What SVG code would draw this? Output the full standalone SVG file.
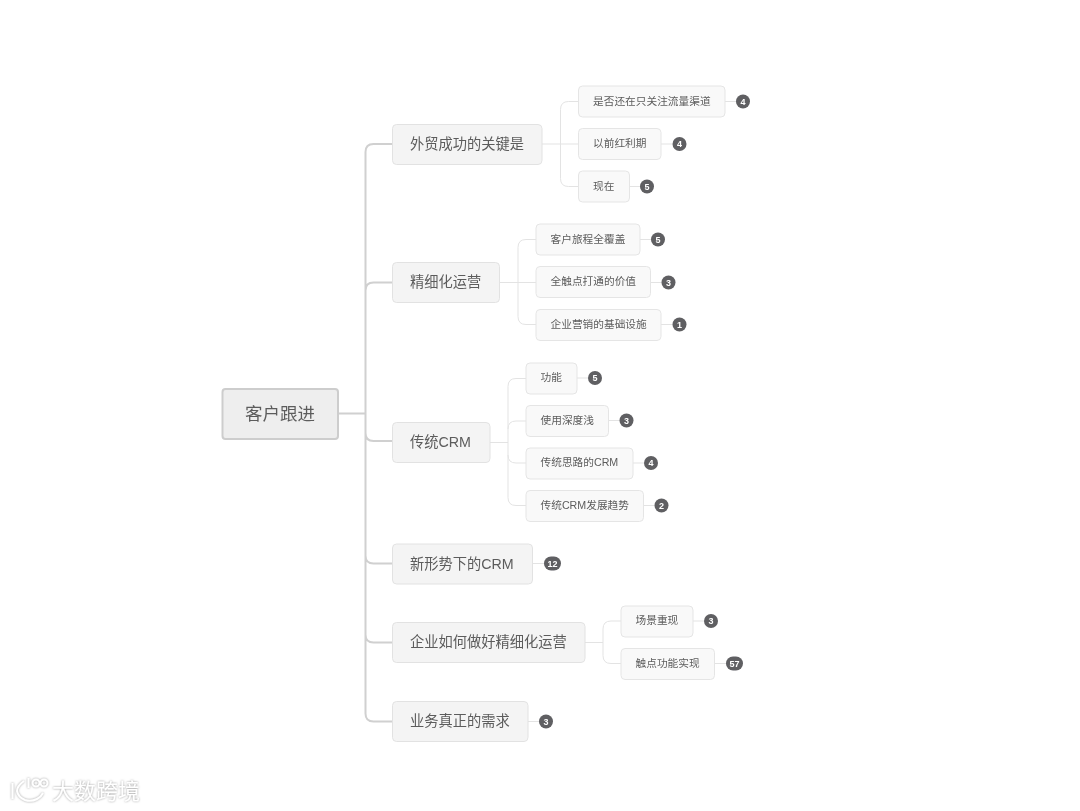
<svg xmlns="http://www.w3.org/2000/svg" width="1080" height="811" viewBox="0 0 1080 811">
<defs>
<filter id="soft" x="0" y="0" width="1080" height="811" filterUnits="userSpaceOnUse"><feGaussianBlur stdDeviation="0.35"/></filter>
<filter id="halo" x="0" y="760" width="170" height="51" filterUnits="userSpaceOnUse"><feDropShadow dx="0" dy="0" stdDeviation="1.1" flood-color="#9a9a9a"/></filter>
</defs>
<style>
text{font-family:"Liberation Sans","Noto Sans CJK SC",sans-serif;fill:#5c5c5c}
.root rect{fill:#eeeeee;stroke:#cdcdcd;stroke-width:2}
.root text{font-size:17.500px}
.l1 rect{fill:#f4f4f4;stroke:#e2e2e2;stroke-width:1}
.l1 text{font-size:14.250px}
.l2 rect{fill:#f9f9f9;stroke:#e5e5e5;stroke-width:1}
.l2 text{font-size:10.700px}
.badge circle,.badge rect{fill:#5f5f62}
.badge text{font-size:9px;fill:#fff;text-anchor:middle;font-weight:bold}
.c0{fill:none;stroke:#d0d0d0;stroke-width:2}
.c1{fill:none;stroke:#e3e3e3;stroke-width:1}
.wm{font-size:22px;fill:#fff}
.wl{fill:none;stroke:#fff;stroke-width:2}
</style>
<g filter="url(#soft)">
<g id="connectors">
<path class="c0" d="M338 413.500H365.500M392 144H373.500Q365.500 144 365.500 152V713.500Q365.500 721.500 373.500 721.500H392M392 282.500H373.500Q365.500 282.500 365.500 290.500M365.500 433Q365.500 441 373.500 441H392M365.500 555.500Q365.500 563.500 373.500 563.500H392M365.500 634.500Q365.500 642.500 373.500 642.500H392"/>
<path class="c1" d="M542 144H578M578 101.500H568.500Q560.500 101.500 560.500 109.500V178.500Q560.500 186.500 568.500 186.500H578M725 101.500H736M661 144H672.500M629.500 186.500H640"/>
<path class="c1" d="M499.500 282.500H536M536 239.500H526Q518 239.500 518 247.500V316.500Q518 324.500 526 324.500H536M640 239.500H651M650.500 282.500H661.500M661 324.500H672.500"/>
<path class="c1" d="M490 442.500H508M526 378.500H516Q508 378.500 508 386.500V497.500Q508 505.500 516 505.500H526M526 421H516Q508 421 508 429M508 455Q508 463 516 463H526M577 378H588M608.500 420.500H619.500M633 463H644M643.500 505.500H654.500"/>
<path class="c1" d="M532.500 563.500H544"/>
<path class="c1" d="M585 642.500H603M621 621H611Q603 621 603 629V655.500Q603 663.500 611 663.500H621M693 621H704M714.500 663.500H726"/>
<path class="c1" d="M528 721.500H539"/>
</g>
<g id="root" class="root"><rect x="222.500" y="389" width="115.500" height="50" rx="3"/><text x="245" y="420">客户跟进</text></g>

<g id="n1" class="l1"><rect x="392.500" y="124.500" width="149.500" height="40" rx="4"/><text x="410" y="149">外贸成功的关键是</text></g>
<g id="n2" class="l1"><rect x="392.500" y="262.500" width="107" height="40" rx="4"/><text x="410" y="287">精细化运营</text></g>
<g id="n3" class="l1"><rect x="392.500" y="422.500" width="97.500" height="40" rx="4"/><text x="410" y="447">传统CRM</text></g>
<g id="n4" class="l1"><rect x="392.500" y="544" width="140" height="40" rx="4"/><text x="410" y="568.500">新形势下的CRM</text></g>
<g id="n5" class="l1"><rect x="392.500" y="622.500" width="192.500" height="40" rx="4"/><text x="410" y="647">企业如何做好精细化运营</text></g>
<g id="n6" class="l1"><rect x="392.500" y="701.500" width="135.500" height="40" rx="4"/><text x="410" y="726">业务真正的需求</text></g>

<g id="n1a" class="l2"><rect x="578.500" y="86" width="146.500" height="31" rx="4"/><text x="593" y="104.500">是否还在只关注流量渠道</text></g>
<g id="n1b" class="l2"><rect x="578.500" y="128.500" width="82.500" height="31" rx="4"/><text x="593" y="147">以前红利期</text></g>
<g id="n1c" class="l2"><rect x="578.500" y="171" width="51" height="31" rx="4"/><text x="593" y="189.500">现在</text></g>
<g id="n2a" class="l2"><rect x="536" y="224" width="104" height="31" rx="4"/><text x="550.500" y="242.500">客户旅程全覆盖</text></g>
<g id="n2b" class="l2"><rect x="536" y="266.500" width="114.500" height="31" rx="4"/><text x="550.500" y="285">全触点打通的价值</text></g>
<g id="n2c" class="l2"><rect x="536" y="309.500" width="125" height="31" rx="4"/><text x="550.500" y="328">企业营销的基础设施</text></g>
<g id="n3a" class="l2"><rect x="526" y="363" width="51" height="31" rx="4"/><text x="540.500" y="381">功能</text></g>
<g id="n3b" class="l2"><rect x="526" y="405.500" width="82.500" height="31" rx="4"/><text x="540.500" y="423.500">使用深度浅</text></g>
<g id="n3c" class="l2"><rect x="526" y="448" width="107" height="31" rx="4"/><text x="540.500" y="466">传统思路的CRM</text></g>
<g id="n3d" class="l2"><rect x="526" y="490.500" width="117.500" height="31" rx="4"/><text x="540.500" y="508.500">传统CRM发展趋势</text></g>
<g id="n5a" class="l2"><rect x="621" y="606" width="72" height="31" rx="4"/><text x="635.500" y="624">场景重现</text></g>
<g id="n5b" class="l2"><rect x="621" y="648.500" width="93.500" height="31" rx="4"/><text x="635.500" y="666.500">触点功能实现</text></g>

<g id="b1a" class="badge"><circle cx="743" cy="101.500" r="7"/><text x="743" y="104.700">4</text></g>
<g id="b1b" class="badge"><circle cx="679.500" cy="144" r="7"/><text x="679.500" y="147.200">4</text></g>
<g id="b1c" class="badge"><circle cx="647" cy="186.500" r="7"/><text x="647" y="189.700">5</text></g>
<g id="b2a" class="badge"><circle cx="658" cy="239.500" r="7"/><text x="658" y="242.700">5</text></g>
<g id="b2b" class="badge"><circle cx="668.500" cy="282.500" r="7"/><text x="668.500" y="285.700">3</text></g>
<g id="b2c" class="badge"><circle cx="679.500" cy="324.500" r="7"/><text x="679.500" y="327.700">1</text></g>
<g id="b3a" class="badge"><circle cx="595" cy="378" r="7"/><text x="595" y="381.200">5</text></g>
<g id="b3b" class="badge"><circle cx="626.500" cy="420.500" r="7"/><text x="626.500" y="423.700">3</text></g>
<g id="b3c" class="badge"><circle cx="651" cy="463" r="7"/><text x="651" y="466.200">4</text></g>
<g id="b3d" class="badge"><circle cx="661.500" cy="505.500" r="7"/><text x="661.500" y="508.700">2</text></g>
<g id="b4" class="badge"><rect x="544" y="556.500" width="17" height="14" rx="7"/><text x="552.500" y="566.700">12</text></g>
<g id="b5a" class="badge"><circle cx="711" cy="621" r="7"/><text x="711" y="624.200">3</text></g>
<g id="b5b" class="badge"><rect x="726" y="656.500" width="17" height="14" rx="7"/><text x="734.500" y="666.700">57</text></g>
<g id="b6" class="badge"><circle cx="546" cy="721.500" r="7"/><text x="546" y="724.700">3</text></g>
</g>
<g id="watermark" filter="url(#halo)">
<path class="wl" d="M12.500 783V799M24 781Q17 786 17 791Q18 797 25 800Q31 802 37 799Q41 797 43 793M28.500 778V788"/>
<circle class="wl" cx="36" cy="783" r="3.500"/><circle class="wl" cx="44" cy="783" r="3.500"/>
<text class="wm" x="52" y="799">大数跨境</text>
</g>
</svg>
